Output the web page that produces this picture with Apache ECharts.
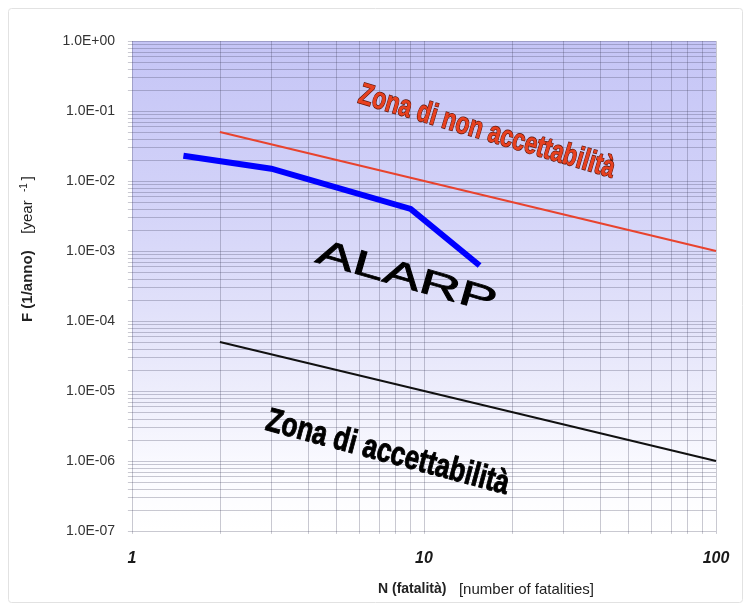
<!DOCTYPE html>
<html>
<head>
<meta charset="utf-8">
<script src="https://cdn.jsdelivr.net/npm/echarts@6/dist/echarts.min.js"></script>
<style>html,body{margin:0;padding:0;background:#fff;}#c{width:751px;height:610px;}</style>
</head>
<body>
<div id="c"></div>
<script>
// ---- data ----
const blueN = [1.5, 3, 9, 15.5];
const blueF = [0.023, 0.015, 0.004, 0.00062];
const redN = [2, 100];
const redF = [0.05, 0.001];
const blackN = [2, 100];
const blackF = [0.00005, 0.000001];
const xMin = 1, xMax = 100;
const yMin = 1e-7, yMax = 1;
const gridMultiples = [1, 2, 3, 4, 5, 6, 7, 8, 9];
const xDecades = [0, 1];
const yDecades = [-7, -6, -5, -4, -3, -2, -1];
const xAxisTitle = 'N (fatalità)';
const xAxisUnit = '[number of fatalities]';
const yAxisTitle = 'F (1/anno)';
const labelTop = 'Zona di non accettabilità';
const labelMid = 'ALARP';
const labelBottom = 'Zona di accettabilità';
// annotation anchors (data coordinates)
const anchorTop = [16.4, 0.05];
const anchorMid = [8.7, 0.00041];
const anchorBottom = [7.5, 0.0000013];
// grid lines poke slightly outside the plot (tick marks)
const tickOutX = 0.968;
const tickOutY = 0.91e-7;

const zip = (a, b) => a.map((v, i) => [v, b[i]]);

const yGridVals = [];
yDecades.forEach(d => gridMultiples.forEach(m => yGridVals.push(m * Math.pow(10, d))));
yGridVals.push(yMax);
const xGridVals = [];
xDecades.forEach(d => gridMultiples.forEach(m => xGridVals.push(m * Math.pow(10, d))));
xGridVals.push(xMax);

const gridLines = yGridVals.map(v => ({ coords: [[tickOutX, v], [xMax, v]] }))
  .concat(xGridVals.map(v => ({ coords: [[v, tickOutY], [v, yMax]] })));

function fmtE(v) {
  const e = Math.round(Math.log10(v));
  const s = e < 0 ? '-' : '+';
  const a = Math.abs(e);
  return '1.0E' + s + (a < 10 ? '0' + a : a);
}

const chart = echarts.init(document.getElementById('c'), null, { renderer: 'canvas' });
const gridColor = 'rgba(60,60,90,0.28)';
const FONT = 'Liberation Sans, Arial, sans-serif';

const option = {
  animation: false,
  backgroundColor: '#ffffff',
  grid: {
    left: 132, right: 35, top: 41, bottom: 79,
    show: true,
    borderWidth: 0,
    backgroundColor: new echarts.graphic.LinearGradient(0, 0, 0, 1, [
      { offset: 0, color: '#c5c5f6' },
      { offset: 0.3, color: '#d1d1f8' },
      { offset: 0.55, color: '#e1e1fa' },
      { offset: 0.72, color: '#eeeefc' },
      { offset: 0.88, color: '#fbfbff' },
      { offset: 1, color: '#ffffff' }
    ])
  },
  xAxis: {
    type: 'log', logBase: 10, min: xMin, max: xMax, splitNumber: 2,
    axisLine: { show: false },
    axisTick: { show: false },
    splitLine: { show: false },
    axisLabel: {
      margin: 20, color: '#1a1a1a',
      fontFamily: FONT, fontSize: 16, fontWeight: 'bold', fontStyle: 'italic'
    },
    name: '{b|' + xAxisTitle + '}{n|   ' + xAxisUnit + '}',
    nameLocation: 'middle', nameGap: 51,
    nameTextStyle: {
      padding: [0, 0, 0, 124],
      rich: {
        b: { fontFamily: FONT, fontSize: 14, fontWeight: 'bold', color: '#222' },
        n: { fontFamily: FONT, fontSize: 15, color: '#222' }
      }
    }
  },
  yAxis: {
    type: 'log', logBase: 10, min: yMin, max: yMax, splitNumber: 7,
    axisLine: { show: false },
    axisTick: { show: false },
    splitLine: { show: false },
    axisLabel: {
      margin: 17, color: '#333',
      fontFamily: FONT, fontSize: 14,
      formatter: fmtE
    },
    name: '{b|' + yAxisTitle + '}{n|    [year  }{s|-1}{n|]}',
    nameLocation: 'middle', nameGap: 95, nameRotate: 90,
    nameTextStyle: {
      padding: [0, 0, 0, 74],
      rich: {
        b: { fontFamily: FONT, fontSize: 15, fontWeight: 'bold', color: '#222' },
        n: { fontFamily: FONT, fontSize: 15, color: '#222' },
        s: { fontFamily: FONT, fontSize: 10, color: '#222', padding: [0, 3, 8, 0] }
      }
    }
  },
  series: [
    {
      name: 'grid', type: 'lines', coordinateSystem: 'cartesian2d', z: 1,
      silent: true, clip: false, polyline: false,
      lineStyle: { color: gridColor, width: 1, type: 'solid', opacity: 1 },
      data: gridLines
    },
    {
      name: 'limite superiore', type: 'line', z: 3, data: zip(redN, redF),
      symbol: 'none', lineStyle: { color: '#e8432e', width: 2 }
    },
    {
      name: 'limite inferiore', type: 'line', z: 3, data: zip(blackN, blackF),
      symbol: 'none', lineStyle: { color: '#111111', width: 2 }
    },
    {
      name: 'curva F-N', type: 'line', z: 4, data: zip(blueN, blueF),
      symbol: 'none', lineStyle: { color: '#0000ff', width: 6, cap: 'butt', join: 'miter' }
    }
  ]
};
chart.setOption(option);

const deg = Math.PI / 180;
const pTop = chart.convertToPixel({ gridIndex: 0 }, anchorTop);
const pMid = chart.convertToPixel({ gridIndex: 0 }, anchorMid);
const pBot = chart.convertToPixel({ gridIndex: 0 }, anchorBottom);

chart.setOption({
  graphic: [
    {
      type: 'rect', silent: true, z: -10,
      shape: { x: 8.5, y: 8.5, width: 734, height: 594, r: 3 },
      style: { fill: 'none', stroke: '#e2e2e2', lineWidth: 1 }
    },
    {
      type: 'text', z: 50, x: pTop[0], y: pTop[1], rotation: -16.5 * deg, scaleX: 0.81, scaleY: 1.08,
      style: {
        text: labelTop, align: 'center', verticalAlign: 'middle',
        font: 'bold 28px "Liberation Sans", Arial, sans-serif',
        fill: '#e8401f', stroke: '#5a1408', lineWidth: 1.3
      }
    },
    {
      type: 'text', z: 50, x: pMid[0], y: pMid[1], rotation: -16 * deg, scaleX: 1.62,
      style: {
        text: labelMid, align: 'center', verticalAlign: 'middle',
        font: '35px "Liberation Sans", Arial, sans-serif',
        fill: '#000000', stroke: '#000000', lineWidth: 0.8
      }
    },
    {
      type: 'text', z: 50, x: pBot[0], y: pBot[1], rotation: -15 * deg, scaleX: 0.84, scaleY: 1.08,
      style: {
        text: labelBottom, align: 'center', verticalAlign: 'middle',
        font: 'bold 31px "Liberation Sans", Arial, sans-serif',
        fill: '#000000', stroke: '#000000', lineWidth: 0.9
      }
    }
  ]
});
</script>
</body>
</html>
